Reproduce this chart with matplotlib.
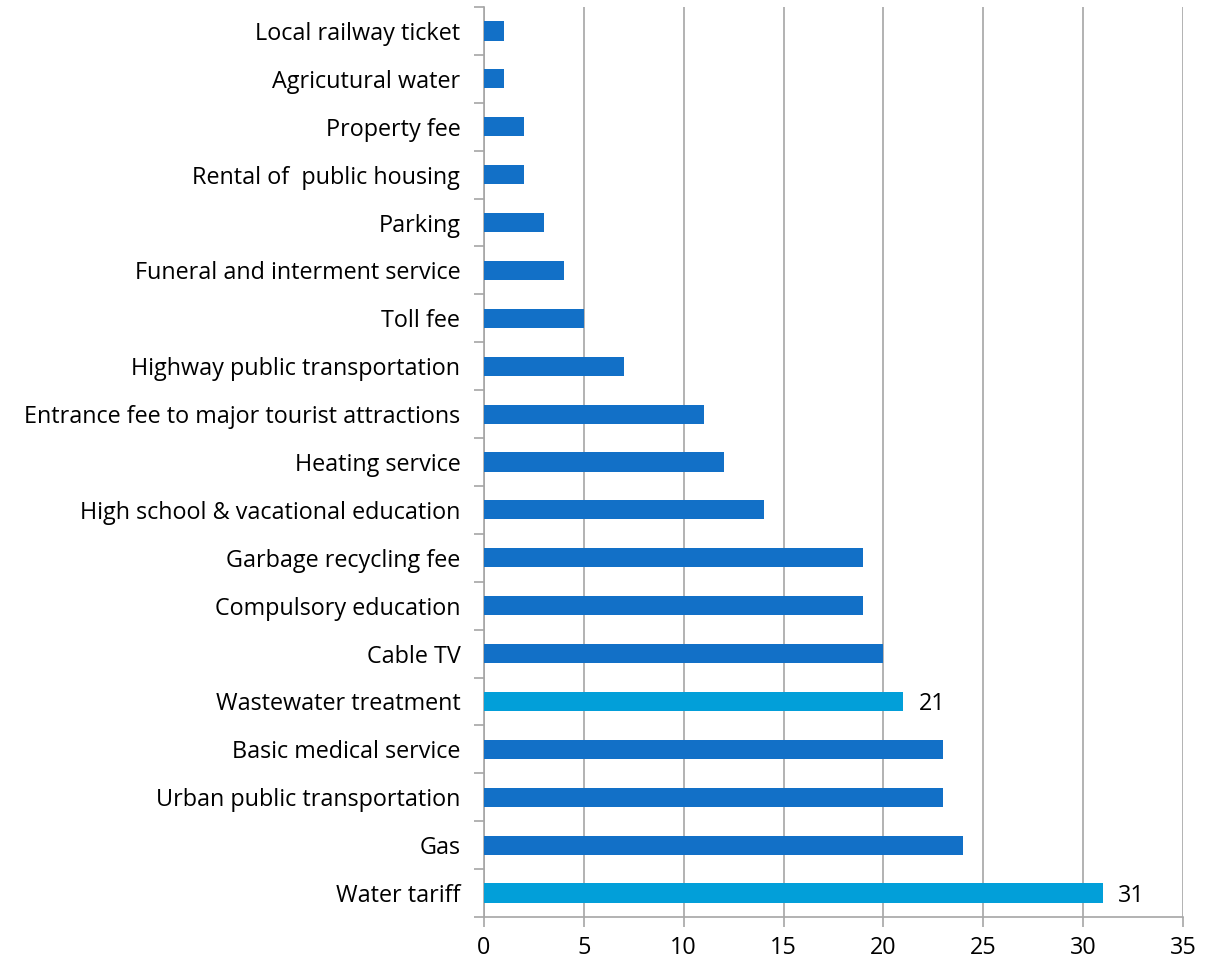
import matplotlib
matplotlib.use("Agg")
import matplotlib.pyplot as plt
import numpy as np

categories = ["Water tariff", "Gas", "Urban public transportation", "Basic medical service",
              "Wastewater treatment", "Cable TV", "Compulsory education", "Garbage recycling fee",
              "High school & vacational education", "Heating service",
              "Entrance fee to major tourist attractions", "Highway public transportation",
              "Toll fee", "Funeral and interment service", "Parking", "Rental of  public housing",
              "Property fee", "Agricutural water", "Local railway ticket"]
values = [31, 24, 23, 23, 21, 20, 19, 19, 14, 12, 11, 7, 5, 4, 3, 2, 2, 1, 1]
highlight = ["Water tariff", "Wastewater treatment"]
x_ticks = [0, 5, 10, 15, 20, 25, 30, 35]

dark = "#1270C7"
light = "#029FD9"
grid = "#A6A6A6"

plt.rcParams['font.family'] = ['Open Sans', 'DejaVu Sans']

fig = plt.figure(figsize=(12.19, 9.63), dpi=100)
ax = fig.add_axes([0.397, 0.0478, 0.5735, 0.9449])

y = np.arange(len(categories))
colors = [light if c in highlight else dark for c in categories]
ax.barh(y, values, height=0.4, color=colors, zorder=3)

FS = 16.8
for yi, v, c in zip(y, values, categories):
    if c in highlight:
        ax.annotate(str(v), (v, yi), xytext=(11, 0), textcoords="offset points",
                    va="center_baseline", ha="left", fontsize=FS, color="black")

ax.set_xlim(0, 35)
ax.set_ylim(-0.5, len(categories) - 0.5)
ax.set_xticks(x_ticks)
ax.set_xticklabels([str(t) for t in x_ticks], fontsize=FS)
ax.set_yticks(y)
ax.set_yticklabels(categories, fontsize=FS)
ax.set_yticks(np.arange(-0.5, len(categories), 1.0), minor=True)
ax.tick_params(axis="y", which="major", length=0, pad=17)
ax.tick_params(axis="y", which="minor", length=7, color=grid, width=1.2)
ax.tick_params(axis="x", which="major", length=7, color=grid, width=1.2, pad=7)

ax.xaxis.grid(True, color=grid, linewidth=1.2, zorder=0)
ax.set_axisbelow(True)
for s in ["top", "right"]:
    ax.spines[s].set_visible(False)
for s in ["left", "bottom"]:
    ax.spines[s].set_color(grid)
    ax.spines[s].set_linewidth(1.2)

fig.savefig("out.png", dpi=100)
